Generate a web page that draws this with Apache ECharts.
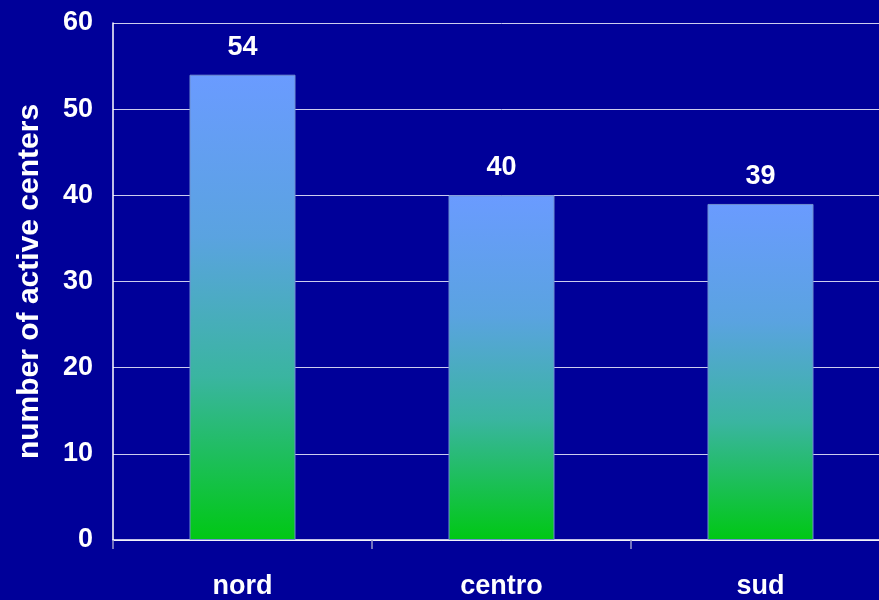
<!DOCTYPE html>
<html><head><meta charset="utf-8">
<script src="https://cdn.jsdelivr.net/npm/echarts@6/dist/echarts.min.js"></script>
<style>html,body{margin:0;padding:0;background:#000099;overflow:hidden;width:879px;height:600px;}#c{width:890px;height:600px;}</style>
</head><body><div id="c"></div>
<script>
var categories = ['nord', 'centro', 'sud'];
var values = [54, 40, 39];
var yTicks = [0, 10, 20, 30, 40, 50, 60];

var chart = echarts.init(document.getElementById('c'), null, {renderer: 'canvas'});
var font = '"Liberation Sans", Arial, sans-serif';
chart.setOption({
  backgroundColor: '#000099',
  animation: false,
  grid: {left: 113, top: 23, right: 0, bottom: 60, containLabel: false},
  xAxis: {
    type: 'category', data: categories, boundaryGap: true,
    axisLine: {show: true, lineStyle: {color: '#ffffff', width: 1.5}},
    axisTick: {show: true, length: 9, lineStyle: {color: '#9999cc', width: 1.5}},
    axisLabel: {color: '#ffffff', fontFamily: font, fontWeight: 'bold', fontSize: 27, margin: 33}
  },
  yAxis: {
    type: 'value', min: 0, max: 60, interval: 10,
    name: 'number of active centers', nameLocation: 'middle', nameGap: 68, nameRotate: 90,
    nameTextStyle: {color: '#ffffff', fontFamily: font, fontWeight: 'bold', fontSize: 30, verticalAlign: 'bottom'},
    axisLine: {show: true, lineStyle: {color: '#ffffff', width: 1.5}},
    axisTick: {show: false},
    splitLine: {show: true, lineStyle: {color: '#ccccee', width: 1}},
    axisLabel: {color: '#ffffff', fontFamily: font, fontWeight: 'bold', fontSize: 27, margin: 20,
      formatter: function(v){ return yTicks.indexOf(v) >= 0 ? String(v) : ''; }}
  },
  series: [{
    type: 'bar', data: values, barWidth: 106,
    itemStyle: {
      borderColor: '#6f8fd0', borderWidth: 1,
      color: new echarts.graphic.LinearGradient(0, 0, 0, 1, [
        {offset: 0, color: '#6a9bff'},
        {offset: 0.35, color: '#5aa3e0'},
        {offset: 0.65, color: '#3ab5a0'},
        {offset: 1, color: '#00c814'}
      ], false)
    },
    label: {show: true, position: 'top', distance: 14, color: '#ffffff', fontFamily: font, fontWeight: 'bold', fontSize: 27}
  }]
});
</script></body></html>
